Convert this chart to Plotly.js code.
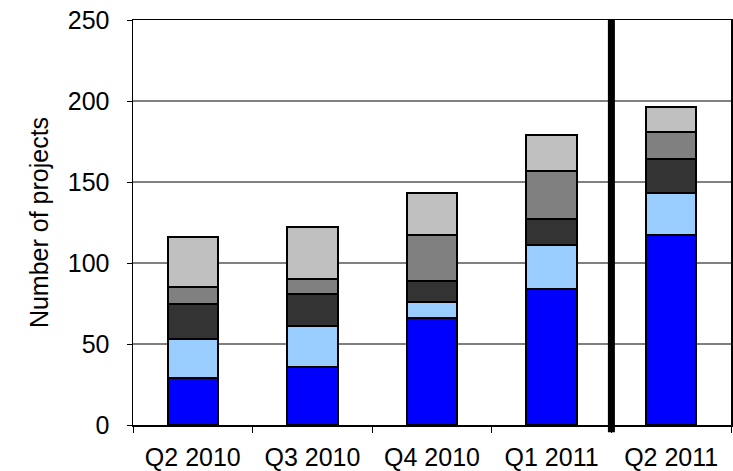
<!DOCTYPE html>
<html>
<head>
<meta charset="utf-8">
<script src="https://cdn.plot.ly/plotly-3.0.1.min.js"></script>
<style>
  html, body { margin: 0; padding: 0; background: #fff; }
  #chart { width: 733px; height: 471px; }
</style>
</head>
<body>
<div id="chart"></div>
<script>
// --- Data ---
const quarters = ['Q2 2010', 'Q3 2010', 'Q4 2010', 'Q1 2011', 'Q2 2011'];

// stacked segments, bottom to top
const seg1 = [29, 36, 66, 84, 117];
const seg2 = [24, 25, 10, 27, 26];
const seg3 = [22, 20, 13, 16, 21];
const seg4 = [10, 9, 28, 30, 17];
const seg5 = [31, 32, 26, 22, 15];

const segColors = ['#0000ff', '#99ccff', '#333333', '#808080', '#c0c0c0'];

// --- Traces ---
const traces = [seg1, seg2, seg3, seg4, seg5].map((vals, i) => ({
    type: 'bar',
    x: quarters,
    y: vals,
    name: 'Segment ' + (i + 1),
    marker: { color: segColors[i], line: { color: '#000', width: 2 } },
    hoverinfo: 'x+y'
}));

const font = { family: 'Liberation Sans, Arial, sans-serif', color: '#000' };

const layout = {
    width: 733,
    height: 471,
    barmode: 'stack',
    bargap: 0.58,
    showlegend: false,
    paper_bgcolor: '#fff',
    plot_bgcolor: '#fff',
    font: font,
    margin: { l: 133, r: 2, t: 20, b: 46, pad: 0 },
    xaxis: {
        type: 'category',
        tickson: 'boundaries',
        ticks: 'outside',
        ticklen: 6,
        tickwidth: 1,
        tickcolor: '#000',
        showline: true,
        linecolor: '#000',
        linewidth: 1.5,
        mirror: true,
        showgrid: false,
        ticklabelstandoff: 9,
        tickfont: { size: 25 }
    },
    yaxis: {
        range: [0, 250],
        dtick: 50,
        ticks: 'outside',
        ticklen: 5,
        tickwidth: 1,
        tickcolor: '#000',
        showline: true,
        linecolor: '#000',
        linewidth: 1.5,
        mirror: true,
        showgrid: true,
        gridcolor: '#808080',
        gridwidth: 1.5,
        zeroline: false,
        ticklabelstandoff: 12,
        tickfont: { size: 25 },
        title: { text: 'Number of projects', font: { size: 25 }, standoff: 12 }
    },
    shapes: [{
        // thick separator between Q1 2011 and Q2 2011
        type: 'line',
        xref: 'x', yref: 'paper',
        x0: 3.5, x1: 3.5, y0: -0.018, y1: 1,
        line: { color: '#000', width: 7 }
    }]
};

Plotly.newPlot('chart', traces, layout, { staticPlot: true, displayModeBar: false });
</script>
</body>
</html>
